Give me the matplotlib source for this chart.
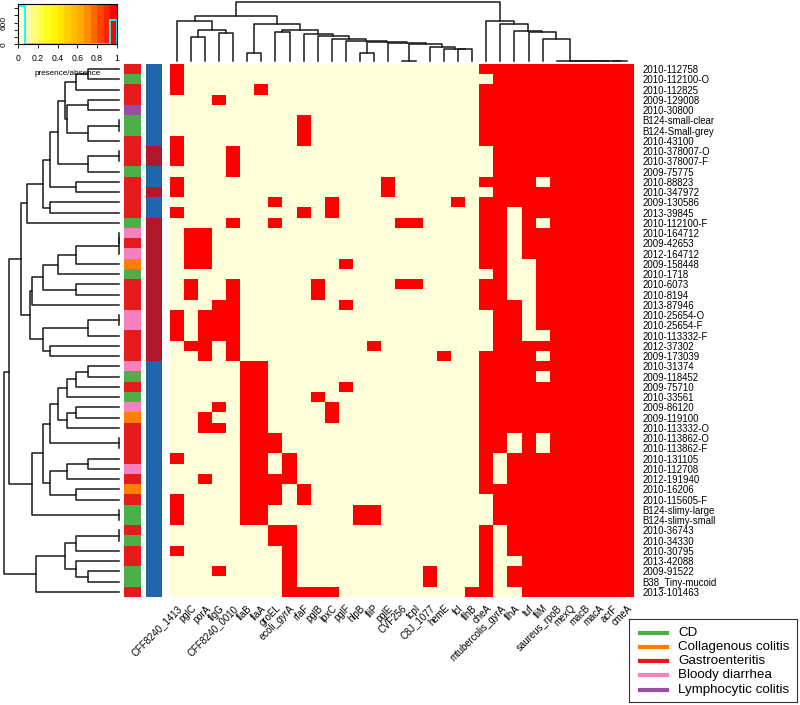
import numpy as np
import matplotlib
matplotlib.use("Agg")
import matplotlib.pyplot as plt
from matplotlib.colors import ListedColormap, LinearSegmentedColormap

plt.rcParams["font.family"] = ["Liberation Sans", "DejaVu Sans"]

# ---- data ----
genes = ["CFF8240_1413", "pglC", "porA", "flgG", "CFF8240_0010", "flaB", "flaA",
         "groEL", "ecoli_gyrA", "rfaF", "pglB", "lpxC", "pglF", "hlpB", "fliP",
         "pglE", "CVF256", "tcpI", "C8J_1077", "hemE", "fcl", "flhB", "cheA",
         "mtubercolis_gyrA", "flhA", "tuf", "fliM", "saureus_rpoB", "mexQ",
         "macB", "macA", "acrF", "cmeA"]

strains = ["2010-112758", "2010-112100-O", "2010-112825", "2009-129008", "2010-30800",
           "B124-small-clear", "B124-Small-grey", "2010-43100", "2010-378007-O",
           "2010-378007-F", "2009-75775", "2010-88823", "2010-347972", "2009-130586",
           "2013-39845", "2010-112100-F", "2010-164712", "2009-42653", "2012-164712",
           "2009-158448", "2010-1718", "2010-6073", "2010-8194", "2013-87946",
           "2010-25654-O", "2010-25654-F", "2010-113332-F", "2012-37302", "2009-173039",
           "2010-31374", "2009-118452", "2009-75710", "2010-33561", "2009-86120",
           "2009-119100", "2010-113332-O", "2010-113862-O", "2010-113862-F",
           "2010-131105", "2010-112708", "2012-191940", "2010-16206", "2010-115605-F",
           "B124-slimy-large", "B124-slimy-small", "2010-36743", "2010-34330",
           "2010-30795", "2013-42088", "2009-91522", "B38_Tiny-mucoid", "2013-101463"]

group_names = ["CD", "Collagenous colitis", "Gastroenteritis", "Bloody diarrhea",
               "Lymphocytic colitis"]
group_colors = ["#4DAF4A", "#FF7F00", "#E41A1C", "#F781BF", "#984EA3"]
# index into group_names for each strain
strain_group = [2, 0, 2, 2, 4, 0, 0, 2, 2, 2, 0, 2, 2, 2, 2, 0, 3, 2, 3, 1,
                0, 2, 2, 2, 3, 3, 2, 2, 2, 3, 0, 2, 0, 3, 1, 2, 2, 2, 2, 3,
                2, 1, 2, 0, 0, 2, 0, 2, 2, 0, 0, 2]
# second side bar (0 = blue, 1 = dark red)
side_bar = [0, 0, 0, 0, 0, 0, 0, 0, 1, 1, 0, 0, 1, 0, 0, 1, 1, 1, 1, 1,
            1, 1, 1, 1, 1, 1, 1, 1, 1, 0, 0, 0, 0, 0, 0, 0, 0, 0, 0, 0,
            0, 0, 0, 0, 0, 0, 0, 0, 0, 0, 0, 0]

# genes 0-21: indices present per strain
present_var = [[0], [0], [0, 6], [3], [], [9], [9], [0, 9], [0, 4], [0, 4],
               [4], [0, 15], [0, 15], [7, 11, 20], [0, 9, 11], [4, 7, 16, 17],
               [1, 2], [1, 2], [1, 2], [1, 2, 12], [], [1, 4, 10, 16, 17],
               [1, 4, 10], [3, 4, 12], [0, 2, 3, 4], [0, 2, 3, 4], [0, 2, 3, 4],
               [1, 2, 4, 14], [2, 4, 19], [5, 6], [5, 6], [5, 6, 12], [5, 6, 10],
               [3, 5, 6, 11], [2, 5, 6, 11], [2, 3, 5, 6], [5, 6, 7], [5, 6, 7],
               [0, 5, 6, 8], [5, 6, 8], [2, 5, 6, 7, 8], [5, 6, 7, 9],
               [0, 5, 6, 7, 9], [0, 5, 6, 13, 14], [0, 5, 6, 13, 14], [7, 8],
               [7, 8], [0, 8], [8], [3, 8, 18], [8, 18], [8, 9, 10, 11, 21]]
# genes 22-32: indices absent per strain
absent_core = [[], [22], [], [], [], [], [], [], [22], [22], [22], [26], [22], [],
               [24], [24, 26], [24], [24], [24], [24, 25], [22, 24, 25], [24, 25],
               [24, 25], [25], [22, 25], [22, 25], [22, 25, 26], [22], [26], [],
               [26], [], [], [], [], [], [24, 26], [24, 26], [23], [23], [23], [],
               [22], [22], [22], [23], [23], [23], [23, 24], [23], [23], [23, 24]]

# ---- dendrograms: merges (left, right, height), leaves are indices ----
r_a = ((0, 1, 0.27), 2, 0.37)
r_b = ((3, 4, 0.27), ((5, 6, 0.0), 7, 0.27), 0.45)
r_c = ((8, 9, 0.0), 10, 0.27)
r_up = ((((r_a, r_b, 0.47), r_c, 0.53), (11, 12, 0.37), 0.6), (13, 14, 0.6), 0.66)
r_up = (r_up, 15, 0.8)
r_f = ((((16, 17, 0.0), 18, 0.0), 19, 0.37), 20, 0.53)
r_m1 = ((r_f, (21, 22, 0.37), 0.66), 23, 0.76)
r_m2 = (((24, 25, 0.0), 26, 0.27), (27, 28, 0.6), 0.66)
r_mid = (r_m1, r_m2, 0.77)
r_l1 = (((29, 30, 0.27), 31, 0.37), 32, 0.45)
r_l2 = ((33, 34, 0.37), 35, 0.45)
r_l3 = ((r_l1, r_l2, 0.53), (36, 37, 0.0), 0.6)
r_l4 = (((38, 39, 0.27), 40, 0.45), (41, 42, 0.37), 0.6)
r_low = ((r_l3, r_l4, 0.66), (43, 44, 0.0), 0.76)
r_bot = ((((45, 46, 0.0), 47, 0.37), (48, (49, 50, 0.27), 0.37), 0.47), 51, 0.72)
row_tree = (((r_up, r_mid, 0.85), r_low, 0.96), r_bot, 1.0)

c_left1 = (0, ((1, 2, 0.41), (3, 4, 0.48), 0.53), 0.68)
c_chain = [(19, 0.21), (18, 0.24), ((16, 17, 0.0), 0.28), (15, 0.31),
           ((13, 14, 0.14), 0.33), (12, 0.34), (11, 0.38), (10, 0.42), (9, 0.45),
           ((7, 8, 0.49), 0.53), ((5, 6, 0.14), 0.635)]
c_core = [(30, 0.0), (29, 0.0), (28, 0.0), (27, 0.0), (26, 0.365), (25, 0.49),
          (24, 0.51), (23, 0.62), (22, 0.68)]

t = (20, 21, 0.2)
for leaf, h in c_chain:
    t = (leaf, t, h)
c_left = (c_left1, t, 0.76)
t = (31, 32, 0.0)
for leaf, h in c_core:
    t = (leaf, t, h)
col_tree = (c_left, t, 1.0)

# ---- build matrix ----
mat = np.zeros((len(strains), len(genes)))
for i in range(len(strains)):
    mat[i, 22:] = 1
    mat[i, present_var[i]] = 1
    mat[i, absent_core[i]] = 0

cream = "#FFFFD9"
red = "#FF0000"
W, H = 800, 705
fig = plt.figure(figsize=(W / 100, H / 100), dpi=100)


def add_ax(x0, y0, x1, y1):
    return fig.add_axes([x0 / W, 1 - y1 / H, (x1 - x0) / W, (y1 - y0) / H])


def dendro(ax, node, horiz):
    if isinstance(node, int):
        return node + 0.5, 0.0
    a, b, h = node
    pa, ha = dendro(ax, a, horiz)
    pb, hb = dendro(ax, b, horiz)
    pos = [pa, pa, pb, pb]
    hts = [ha, h, h, hb]
    if horiz:
        ax.plot(hts, pos, color="#1a1a1a", lw=1.1, clip_on=False)
    else:
        ax.plot(pos, hts, color="#1a1a1a", lw=1.1, clip_on=False)
    return (pa + pb) / 2, h


nr, nc = mat.shape

# heatmap
ax = add_ax(170, 64, 634, 597)
ax.imshow(mat, cmap=ListedColormap([cream, red]), aspect="auto",
          interpolation="nearest", extent=(0, nc, nr, 0))
ax.set_xticks(np.arange(nc) + 0.5)
ax.set_xticklabels(genes, rotation=45, ha="right", va="top",
                   rotation_mode="anchor", fontsize=6.9)
ax.set_yticks(np.arange(nr) + 0.5)
ax.set_yticklabels(strains, fontsize=6.9)
ax.yaxis.tick_right()
ax.tick_params(axis="x", length=0, pad=4.5)
ax.tick_params(axis="y", length=0, pad=6)
for s in ax.spines.values():
    s.set_visible(False)

# side colour bars
ax_g = add_ax(124, 64, 141, 597)
ax_g.imshow(np.array(strain_group)[:, None], cmap=ListedColormap(group_colors),
            vmin=0, vmax=4, aspect="auto", interpolation="nearest")
ax_g.axis("off")
ax_s = add_ax(146, 64, 162, 597)
ax_s.imshow(np.array(side_bar)[:, None], cmap=ListedColormap(["#2166AC", "#B2182B"]),
            vmin=0, vmax=1, aspect="auto", interpolation="nearest")
ax_s.axis("off")

# row dendrogram
ax_r = add_ax(4, 64, 119, 597)
dendro(ax_r, row_tree, True)
ax_r.set_xlim(1.0, 0)
ax_r.set_ylim(nr, 0)
ax_r.axis("off")

# column dendrogram
ax_c = add_ax(170, 2, 634, 61)
dendro(ax_c, col_tree, False)
ax_c.set_xlim(0, nc)
ax_c.set_ylim(0, 1.0)
ax_c.axis("off")

# colour key with histogram
ax_k = add_ax(18.3, 4.3, 116.7, 44.3)
ramp = LinearSegmentedColormap.from_list("key", [cream, "#FFFF00", "#FFA500", red])
nb = 15
counts, edges = np.histogram(mat.ravel(), bins=np.linspace(0, 1, nb + 1))
ymax = counts.max() / 0.95
ax_k.imshow(np.linspace(0, 1, nb)[None, :], cmap=ListedColormap(ramp(np.linspace(0, 1, nb))),
            aspect="auto", extent=(0, 1, 0, ymax), interpolation="nearest")
ax_k.stairs(counts, edges, baseline=0, color="cyan", lw=1.3)
ax_k.set_xlim(0, 1)
ax_k.set_ylim(0, ymax)
ax_k.set_xticks([0, 0.2, 0.4, 0.6, 0.8, 1])
ax_k.set_xticklabels(["0", "0.2", "0.4", "0.6", "0.8", "1"], fontsize=6.2)
ax_k.set_yticks(np.arange(0, 1001, 200))
ax_k.set_yticklabels(["0", "", "", "600", "", ""], fontsize=6, rotation=90, va="center")
ax_k.tick_params(axis="x", length=3, width=0.6, pad=4)
ax_k.tick_params(axis="y", length=3, width=0.6, pad=5)
ax_k.set_xlabel("presence/absence", fontsize=5.9, labelpad=5)
for s in ax_k.spines.values():
    s.set_linewidth(0.8)

# legend box
ax_l = add_ax(629, 619, 797, 702)
ax_l.set_xlim(0, 168)
ax_l.set_ylim(83, 0)
for i, (name, col) in enumerate(zip(group_names, group_colors)):
    y = 13.7 + 14.2 * i
    ax_l.plot([11, 38], [y, y], color=col, lw=3)
    ax_l.text(49, y, name, va="center", ha="left", fontsize=9.6)
ax_l.set_xticks([])
ax_l.set_yticks([])
for s in ax_l.spines.values():
    s.set_linewidth(0.8)
    s.set_color("#333333")

fig.savefig("out.png", dpi=100)
